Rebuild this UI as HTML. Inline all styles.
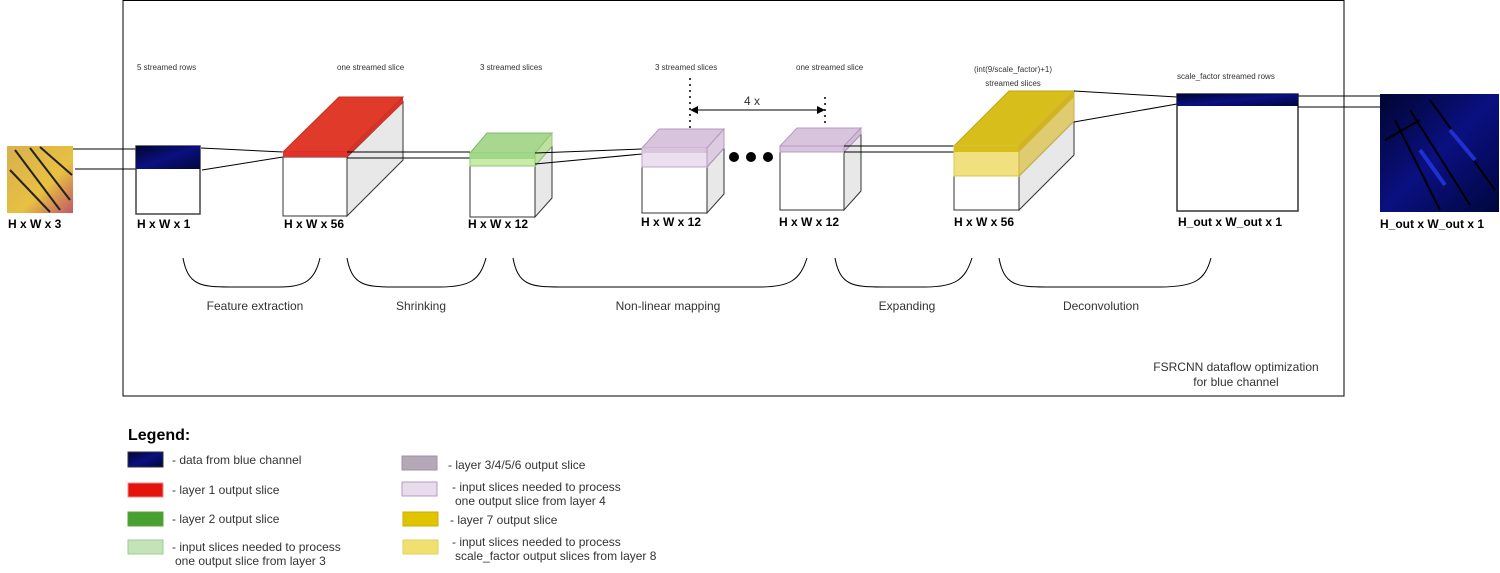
<!DOCTYPE html>
<html><head><meta charset="utf-8"><style>
body{margin:0;background:#fff}
svg text{font-family:"Liberation Sans",Arial,sans-serif}
</style></head><body>
<svg width="1500" height="568" viewBox="0 0 1500 568" xmlns="http://www.w3.org/2000/svg">
<defs>
<linearGradient id="bf" x1="0" y1="0" x2="1" y2="1"><stop offset="0" stop-color="#d8b050"/><stop offset="0.6" stop-color="#e8c040"/><stop offset="1" stop-color="#c05868"/></linearGradient>
<linearGradient id="bl" x1="0" y1="0" x2="1" y2="1"><stop offset="0" stop-color="#000530"/><stop offset="0.5" stop-color="#0a1080"/><stop offset="1" stop-color="#00063c"/></linearGradient>
</defs>
<rect x="123" y="0.5" width="1221" height="395.5" fill="none" stroke="#000" stroke-width="1"/>

<!-- input image -->
<rect x="7" y="146" width="66" height="67" fill="url(#bf)"/>
<path d="M15 150 L60 210 M30 148 L70 200 M10 170 L50 212 M40 147 L72 175" stroke="#222" stroke-width="2" fill="none"/>
<text x="8" y="228" font-size="12" font-weight="bold">H x W x 3</text>
<line x1="73" y1="149" x2="136" y2="149" stroke="#000"/>
<line x1="75" y1="169" x2="136" y2="169" stroke="#000"/>

<!-- blue rows -->
<text x="137" y="70" font-size="8" fill="#333">5 streamed rows</text>
<rect x="136" y="146" width="64" height="68" fill="#fff" stroke="#444" stroke-width="1.5"/>
<rect x="136" y="146" width="64" height="23" fill="url(#bl)"/>
<text x="137" y="228" font-size="12" font-weight="bold">H x W x 1</text>
<line x1="201" y1="148" x2="283" y2="152" stroke="#000"/>
<line x1="202" y1="170" x2="283" y2="157" stroke="#000"/>

<!-- red cube -->
<text x="337" y="70" font-size="8" fill="#333">one streamed slice</text>
<polygon points="347,157 403,102 403,160 347,216" fill="#e8e8e8" stroke="#333"/>
<rect x="283" y="157" width="64" height="59" fill="#fff" stroke="#333"/>
<polygon points="283,152 347,152 403,97 339,97" fill="#df3a2a" stroke="#d02a20"/>
<rect x="283" y="152" width="64" height="5" fill="#e8302a"/>
<polygon points="347,152 403,97 403,103 347,157" fill="#d53325"/>
<text x="284" y="228" font-size="12" font-weight="bold">H x W x 56</text>
<line x1="347" y1="152" x2="470" y2="152" stroke="#000"/>
<line x1="347" y1="158" x2="470" y2="158" stroke="#000"/>

<!-- green cube -->
<text x="480" y="70" font-size="8" fill="#333">3 streamed slices</text>
<polygon points="535,166 552,146 552,198 535,217" fill="#e8e8e8" stroke="#333"/>
<rect x="470" y="166" width="65" height="51" fill="#fff" stroke="#333"/>
<polygon points="470,153 535,153 552,133 487,133" fill="#a8d890" stroke="#80b870"/>
<rect x="470" y="153" width="65" height="13" fill="#c8eca8" stroke="#90c878"/>
<rect x="470" y="153" width="65" height="6" fill="#a0d888"/>
<polygon points="535,153 552,133 552,146 535,166" fill="#c0e0a0" stroke="#90c878"/>
<text x="468" y="228" font-size="12" font-weight="bold">H x W x 12</text>
<line x1="535" y1="153" x2="642" y2="149" stroke="#000"/>
<line x1="535" y1="164" x2="642" y2="154" stroke="#000"/>

<!-- purple cube 1 -->
<text x="655" y="70" font-size="8" fill="#333">3 streamed slices</text>
<polygon points="707,167 724,148 724,194 707,213" fill="#e8e8e8" stroke="#333"/>
<rect x="642" y="167" width="65" height="46" fill="#fff" stroke="#333"/>
<polygon points="642,148 707,148 724,129 659,129" fill="#d8c4dc" stroke="#b898c0"/>
<rect x="642" y="148" width="65" height="19" fill="#ece0f0" stroke="#c0a8c8"/>
<rect x="642" y="148" width="65" height="5" fill="#d8c4dc"/>
<polygon points="707,148 724,129 724,148 707,167" fill="#dccce0" stroke="#b898c0"/>
<text x="641" y="226" font-size="12" font-weight="bold">H x W x 12</text>
<line x1="690" y1="78" x2="690" y2="128" stroke="#000" stroke-dasharray="2,4" stroke-width="1.5"/>
<line x1="825" y1="97" x2="825" y2="124" stroke="#000" stroke-dasharray="2,4" stroke-width="1.5"/>
<line x1="693" y1="110" x2="820" y2="110" stroke="#000"/>
<polygon points="690,110 698,106 698,114" fill="#000"/>
<polygon points="825,110 817,106 817,114" fill="#000"/>
<text x="744" y="105" font-size="12" fill="#333">4 x</text>
<circle cx="734" cy="157" r="5" fill="#000"/>
<circle cx="751" cy="157" r="5" fill="#000"/>
<circle cx="768" cy="157" r="5" fill="#000"/>

<!-- purple cube 2 -->
<text x="796" y="70" font-size="8" fill="#333">one streamed slice</text>
<polygon points="844,152 861,134 861,191 844,210" fill="#e8e8e8" stroke="#333"/>
<rect x="780" y="152" width="64" height="58" fill="#fff" stroke="#333"/>
<polygon points="780,146 844,146 861,128 797,128" fill="#d8c4dc" stroke="#b898c0"/>
<rect x="780" y="146" width="64" height="6" fill="#d8c4dc" stroke="#b898c0"/>
<polygon points="844,146 861,128 861,134 844,152" fill="#d0bcd6" stroke="#b898c0"/>
<text x="779" y="226" font-size="12" font-weight="bold">H x W x 12</text>
<line x1="844" y1="146" x2="954" y2="146" stroke="#000"/>
<line x1="844" y1="152" x2="954" y2="152" stroke="#000"/>

<!-- yellow cube -->
<text x="1013" y="72" font-size="8" fill="#333" text-anchor="middle">(int(9/scale_factor)+1)</text>
<text x="1013" y="86" font-size="8" fill="#333" text-anchor="middle">streamed slices</text>
<polygon points="1019,176 1074,121 1074,155 1019,210" fill="#e8e8e8" stroke="#333"/>
<rect x="954" y="176" width="65" height="34" fill="#fff" stroke="#333"/>
<polygon points="954,146 1019,146 1074,91 1009,91" fill="#d8be1a" stroke="#c0a810"/>
<rect x="954" y="146" width="65" height="30" fill="#f0e080" stroke="#d8c850"/>
<rect x="954" y="146" width="65" height="6" fill="#d8be1a"/>
<polygon points="1019,146 1074,91 1074,121 1019,176" fill="#e0cc70" stroke="#c8b040"/>
<polygon points="1019,146 1074,91 1074,97 1019,152" fill="#d0b420"/>
<text x="954" y="226" font-size="12" font-weight="bold">H x W x 56</text>
<line x1="1074" y1="91" x2="1177" y2="97" stroke="#000"/>
<line x1="1074" y1="122" x2="1177" y2="104" stroke="#000"/>

<!-- output -->
<text x="1177" y="79" font-size="8" fill="#333">scale_factor streamed rows</text>
<rect x="1177" y="94" width="121" height="117" fill="#fff" stroke="#333" stroke-width="1.5"/>
<rect x="1177" y="94" width="121" height="12" fill="url(#bl)"/>
<text x="1178" y="226" font-size="12" font-weight="bold">H_out x W_out x 1</text>
<line x1="1298" y1="96" x2="1380" y2="96" stroke="#000"/>
<line x1="1298" y1="107" x2="1380" y2="107" stroke="#000"/>
<rect x="1380" y="94" width="119" height="118" fill="url(#bl)"/>
<path d="M1395 120 L1440 210 M1410 110 L1470 205 M1430 100 L1495 190 M1385 140 L1420 120" stroke="#000" stroke-width="2" fill="none"/>
<path d="M1420 150 L1445 185 M1450 130 L1475 160" stroke="#2030d0" stroke-width="4" fill="none"/>
<text x="1380" y="228" font-size="12" font-weight="bold">H_out x W_out x 1</text>

<!-- braces -->
<g fill="none" stroke="#000" stroke-width="1">
<path d="M183 258 C188 285 200 287 230 287 L280 287 C305 287 315 280 320 258"/>
<path d="M347 258 C352 285 364 287 394 287 L440 287 C470 287 480 280 486 258"/>
<path d="M513 258 C518 285 530 287 560 287 L760 287 C790 287 800 280 807 258"/>
<path d="M835 258 C840 285 852 287 882 287 L925 287 C955 287 965 280 972 258"/>
<path d="M999 258 C1004 285 1016 287 1046 287 L1160 287 C1195 287 1205 280 1211 258"/>
</g>
<g font-size="12" fill="#333" text-anchor="middle">
<text x="255" y="310">Feature extraction</text>
<text x="421" y="310">Shrinking</text>
<text x="668" y="310">Non-linear mapping</text>
<text x="907" y="310">Expanding</text>
<text x="1101" y="310">Deconvolution</text>
<text x="1236" y="371">FSRCNN dataflow optimization</text>
<text x="1236" y="386">for blue channel</text>
</g>

<!-- legend -->
<text x="128" y="440" font-size="16" font-weight="bold">Legend:</text>
<g font-size="12" fill="#333">
<rect x="128" y="452" width="35" height="15" fill="url(#bl)" stroke="#333"/>
<text x="172" y="464">- data from blue channel</text>
<rect x="128" y="483" width="35" height="14" fill="#e4140c" stroke="#e88"/>
<text x="172" y="494">- layer 1 output slice</text>
<rect x="128" y="512" width="35" height="14" fill="#48a030" stroke="#60a040"/>
<text x="172" y="523">- layer 2 output slice</text>
<rect x="128" y="540" width="35" height="14" fill="#c4e4b8" stroke="#9c9"/>
<text x="172" y="551">- input slices needed to process</text>
<text x="175" y="565">one output slice from layer 3</text>
<rect x="402" y="456" width="35" height="14" fill="#b4a8b8" stroke="#a090a8"/>
<text x="448" y="469">- layer 3/4/5/6 output slice</text>
<rect x="402" y="482" width="35" height="14" fill="#e8dcec" stroke="#b898c4"/>
<text x="452" y="491">- input slices needed to process</text>
<text x="455" y="505">one output slice from layer 4</text>
<rect x="403" y="512" width="35" height="14" fill="#e0c400" stroke="#c8b000"/>
<text x="450" y="524">- layer 7 output slice</text>
<rect x="403" y="540" width="35" height="14" fill="#f0e070" stroke="#e0d060"/>
<text x="452" y="546">- input slices needed to process</text>
<text x="455" y="560">scale_factor output slices from layer 8</text>
</g>
</svg>
</body></html>
